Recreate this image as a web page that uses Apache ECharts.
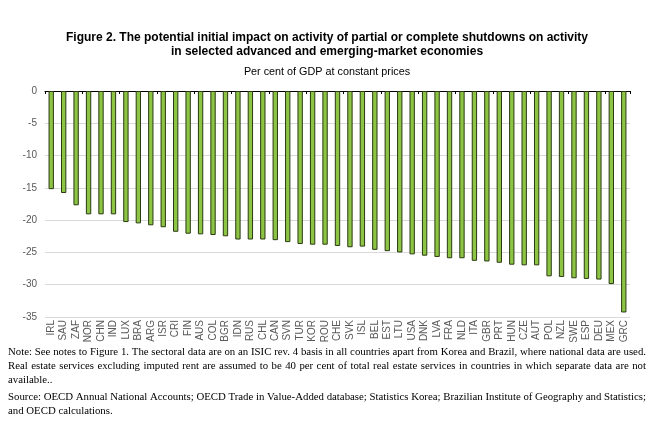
<!DOCTYPE html>
<html><head><meta charset="utf-8">
<script src="https://cdn.jsdelivr.net/npm/echarts@6/dist/echarts.min.js"></script>
<style>html,body{margin:0;padding:0;background:#fff}#c{width:654px;height:426px}</style>
</head><body><div id="c"></div>
<script>
const categories = ["IRL","SAU","ZAF","NOR","CHN","IND","LUX","BRA","ARG","ISR","CRI","FIN","AUS","COL","BGR","IDN","RUS","CHL","CAN","SVN","TUR","KOR","ROU","CHE","SVK","ISL","BEL","EST","LTU","USA","DNK","LVA","FRA","NLD","ITA","GBR","PRT","HUN","CZE","AUT","POL","NZL","SWE","ESP","DEU","MEX","GRC"];
const values = [-15.2,-15.8,-17.7,-19.1,-19.1,-19.1,-20.3,-20.5,-20.8,-21.1,-21.8,-22.1,-22.2,-22.3,-22.5,-23.0,-23.0,-23.0,-23.1,-23.4,-23.7,-23.8,-23.8,-24.0,-24.2,-24.1,-24.6,-24.8,-25.0,-25.3,-25.5,-25.7,-25.9,-25.9,-26.3,-26.4,-26.6,-26.9,-27.0,-27.0,-28.7,-28.8,-29.0,-29.1,-29.2,-29.9,-34.3];
const titleLines = ["Figure 2. The potential initial impact on activity of partial or complete shutdowns on activity","in selected advanced and emerging-market economies"];
const subtitle = "Per cent of GDP at constant prices";
const noteLines = [
 "Note: See notes to Figure 1. The sectoral data are on an ISIC rev. 4 basis in all countries apart from Korea and Brazil, where national data are used.",
 "Real estate services excluding imputed rent are assumed to be 40 per cent of total real estate services in countries in which separate data are not",
 "available.."
];
const sourceLines = [
 "Source: OECD Annual National Accounts; OECD Trade in Value-Added database; Statistics Korea; Brazilian Institute of Geography and Statistics;",
 "and OECD calculations."
];

const chart = echarts.init(document.getElementById('c'), null, {renderer:'canvas'});
const serif = '"Liberation Serif", "DejaVu Serif", serif';
const sans = '"Liberation Sans", Arial, sans-serif';
const noteFont = '10.8px ' + serif;
const ctx = document.createElement('canvas').getContext('2d');
ctx.font = noteFont;
const graphics = [];
function addLine(text, y, justify){
  const L = 8, R = 646;
  if(!justify){
    graphics.push({type:'text', left:L, top:y, style:{text:text, font:noteFont, fill:'#000'}});
    return;
  }
  const words = text.split(' ');
  const ws = words.map(w=>ctx.measureText(w).width);
  const total = ws.reduce((a,b)=>a+b,0);
  const gap = (R-L-total)/(words.length-1);
  let x = L;
  words.forEach((w,i)=>{
    graphics.push({type:'text', x:x, y:y, style:{text:w, font:noteFont, fill:'#000', textVerticalAlign:'top'}});
    x += ws[i] + gap;
  });
}
addLine(noteLines[0], 347, true);
addLine(noteLines[1], 361, true);
addLine(noteLines[2], 375, false);
addLine(sourceLines[0], 392, true);
addLine(sourceLines[1], 406, false);

chart.setOption({
  animation:false,
  title:[
    {text:titleLines.join('\n'), left:'center', top:26, textStyle:{fontFamily:sans, fontWeight:'bold', fontSize:12, lineHeight:14, color:'#000'}},
    {text:subtitle, left:'center', top:62, textStyle:{fontFamily:sans, fontWeight:'normal', fontSize:10.8, color:'#000'}}
  ],
  grid:{left:45, right:24, top:91, bottom:109},
  xAxis:[
    {type:'category', data:categories, position:'bottom',
     axisLine:{show:false}, axisTick:{show:false},
     axisLabel:{rotate:90, interval:0, margin:3, fontSize:10, color:'#595959', fontFamily:sans}},
    {type:'category', data:categories, position:'top',
     axisLine:{show:true, onZero:false, lineStyle:{color:'#000', width:1}},
     axisTick:{show:true, inside:true, length:3, lineStyle:{color:'#000'}},
     axisLabel:{show:false}}
  ],
  yAxis:{type:'value', min:-35, max:0, interval:5,
    axisLine:{show:false}, axisTick:{show:false},
    splitLine:{lineStyle:{color:'#d9d9d9', width:1}},
    axisLabel:{fontSize:10, color:'#595959', margin:8, fontFamily:sans}},
  series:[{type:'bar', xAxisIndex:0, data:values, barWidth:'43%',
    itemStyle:{color:'#8cc443', borderColor:'#2b3a12', borderWidth:1}}],
  graphic:graphics
});
</script></body></html>
